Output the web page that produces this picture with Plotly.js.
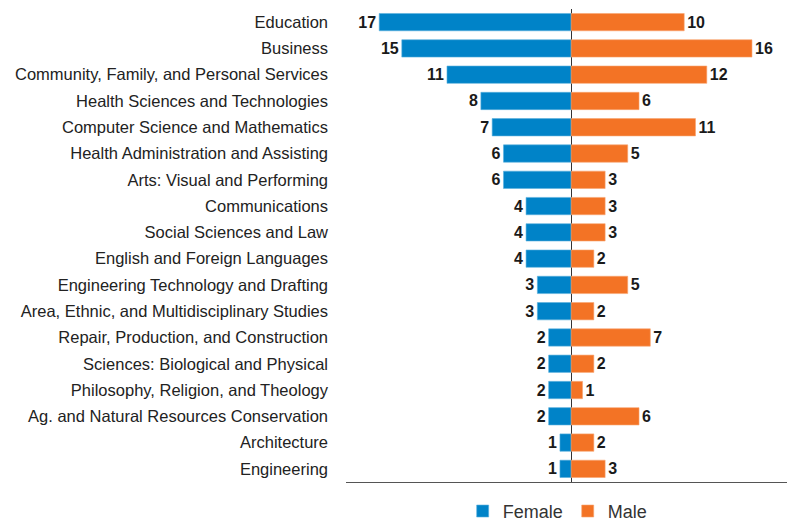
<!DOCTYPE html>
<html>
<head>
<meta charset="utf-8">
<script src="https://cdn.plot.ly/plotly-3.0.1.min.js"></script>
<style>html,body{margin:0;padding:0;background:#fff}</style>
</head>
<body>
<div id="chart" style="width:787px;height:521px"></div>
<script>
const categories = [
  "Education",
  "Business",
  "Community, Family, and Personal Services",
  "Health Sciences and Technologies",
  "Computer Science and Mathematics",
  "Health Administration and Assisting",
  "Arts: Visual and Performing",
  "Communications",
  "Social Sciences and Law",
  "English and Foreign Languages",
  "Engineering Technology and Drafting",
  "Area, Ethnic, and Multidisciplinary Studies",
  "Repair, Production, and Construction",
  "Sciences: Biological and Physical",
  "Philosophy, Religion, and Theology",
  "Ag. and Natural Resources Conservation",
  "Architecture",
  "Engineering"
];
const female = [17, 15, 11, 8, 7, 6, 6, 4, 4, 4, 3, 3, 2, 2, 2, 2, 1, 1];
const male   = [10, 16, 12, 6, 11, 5, 3, 3, 3, 2, 5, 2, 7, 2, 1, 6, 2, 3];

const labelFont = {family: "Liberation Sans, Arial, sans-serif", size: 16, color: "#1a1a1a", weight: "bold"};

const traces = [
  {
    type: "bar", orientation: "h", name: "Female",
    y: categories, x: female.map(v => -v),
    text: female.map(v => "<b>" + v + "</b>"),
    textposition: "outside", cliponaxis: false,
    textfont: labelFont,
    marker: {color: "#0083C8", line: {color: "#5BB0DE", width: 0.6}},
    hoverinfo: "none"
  },
  {
    type: "bar", orientation: "h", name: "Male",
    y: categories, x: male,
    text: male.map(v => "<b>" + v + "</b>"),
    textposition: "outside", cliponaxis: false,
    textfont: labelFont,
    marker: {color: "#F37325", line: {color: "#F8A470", width: 0.6}},
    hoverinfo: "none"
  }
];

const layout = {
  width: 787, height: 521,
  margin: {l: 346, r: 0, t: 9, b: 39, autoexpand: false},
  paper_bgcolor: "#fff", plot_bgcolor: "#fff",
  barmode: "relative",
  bargap: 0.34,
  showlegend: true,
  legend: {
    orientation: "h", x: 0.48, xanchor: "center", y: -0.062, yanchor: "middle",
    font: {family: "Liberation Sans, Arial, sans-serif", size: 18, color: "#333"},
    itemwidth: 30, tracegroupgap: 0, traceorder: "normal"
  },
  xaxis: {
    range: [-19.94, 19.1],
    showgrid: false, showticklabels: false, ticks: "",
    zeroline: true, zerolinecolor: "#333", zerolinewidth: 1,
    showline: true, linecolor: "#555", linewidth: 1,
    fixedrange: true
  },
  yaxis: {
    type: "category",
    autorange: false, range: [17.5, -0.5],
    showgrid: false, zeroline: false, showline: false,
    ticks: "", ticklabelstandoff: 17,
    tickfont: {family: "Liberation Sans, Arial, sans-serif", size: 16.5, color: "#222"},
    fixedrange: true
  }
};

Plotly.newPlot("chart", traces, layout, {displayModeBar: false, staticPlot: true});
</script>
</body>
</html>
